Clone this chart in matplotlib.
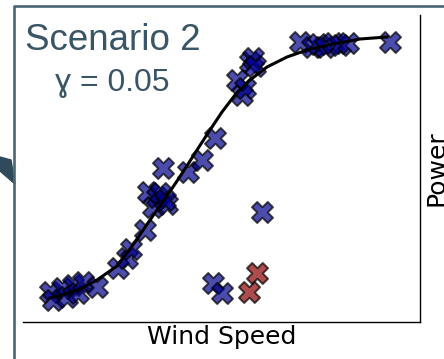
import matplotlib
matplotlib.use('Agg')
import matplotlib.pyplot as plt
from matplotlib.lines import Line2D
from matplotlib.patches import Polygon

# observations (arbitrary units)
wind_normal = [27, 30, 39, 44, 50, 55, 60, 74, 95, 104, 108, 122, 130, 125, 134, 137,
               144, 140, 142, 165, 179, 192, 219, 214, 222, 227, 230, 232, 277, 289,
               295, 302, 310, 317, 325, 367, 239, 190, 199]
power_normal = [30, 22, 34, 25, 37, 29, 40, 35, 54, 64, 73, 92, 115, 130, 125, 129,
                118, 154, 122, 150, 162, 184, 227, 242, 234, 260, 264, 256, 280, 275,
                278, 275, 279, 277, 279, 280, 110, 39, 29]
wind_flagged = [234, 226]
power_flagged = [49, 30]

# fitted power curve
curve_wind = [27, 42, 57, 74, 94, 110, 127, 144, 160, 174, 187, 199, 212, 227, 244,
              264, 284, 310, 337, 364]
curve_power = [24, 28, 33, 42, 56, 77, 102, 126, 150, 172, 192, 210, 227, 242, 255,
               265, 272, 278, 283, 285]

title = 'Scenario 2'
subtitle = 'ɣ = 0.05'

fig = plt.figure(figsize=(4.44, 3.59), dpi=100)
ax = fig.add_axes([23 / 444, 1 - 322 / 359, 397 / 444, 307 / 359])

ax.scatter(wind_normal, power_normal, marker='X', s=230, c='darkblue', alpha=0.7,
           edgecolors='black', linewidths=1.4, zorder=2)
ax.scatter(wind_flagged, power_flagged, marker='X', s=230, c='darkred', alpha=0.7,
           edgecolors='black', linewidths=1.4, zorder=2)
ax.plot(curve_wind, curve_power, color='black', lw=2.2, zorder=3)

ax.set_xlim(0, 397)
ax.set_ylim(0, 307)
ax.set_xticks([])
ax.set_yticks([])
for side in ['top', 'left']:
    ax.spines[side].set_visible(False)
for side in ['bottom', 'right']:
    ax.spines[side].set_linewidth(1.0)

ax.set_xlabel('Wind Speed', fontsize=18, labelpad=2)
ax.yaxis.set_label_position('right')
ax.set_ylabel('Power', fontsize=18, labelpad=3)

# slide frame and arrow
frame = Line2D([14 / 444, 14 / 444, 1.0], [0.0, 1 - 6 / 359, 1 - 6 / 359],
               transform=fig.transFigure, color='#4a6676', lw=1.9)
fig.add_artist(frame)
arrow = Polygon([(0, 1 - 157 / 359), (11 / 444, 1 - 160 / 359), (15 / 444, 1 - 184 / 359),
                 (0, 1 - 171 / 359)], closed=True, transform=fig.transFigure,
                color='#2f4a5a')
fig.add_artist(arrow)

fig.text(25 / 444, 1 - 23 / 359, title, fontsize=26.5, family='Liberation Sans',
         color='#3a5566', ha='left', va='top')
fig.text(112 / 444, 1 - 68 / 359, subtitle, fontsize=23, family='Liberation Sans',
         color='#3a5566', ha='center', va='top')

fig.savefig('out.png', dpi=100)
